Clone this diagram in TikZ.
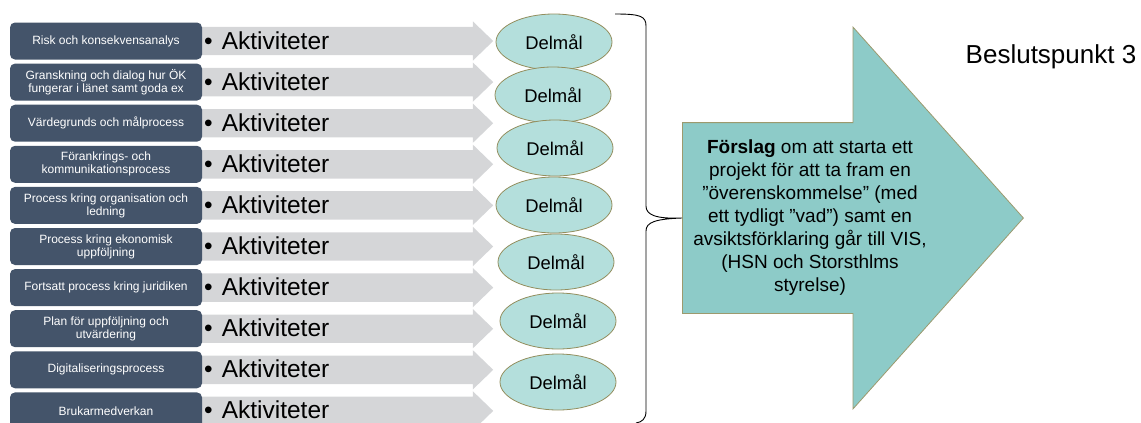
\documentclass[tikz,border=0pt]{standalone}
\usepackage{fontspec}
\setmainfont{Liberation Sans}
\usepackage{tikz}
\usetikzlibrary{shapes.geometric, shapes.arrows}
\definecolor{procblue}{HTML}{44546A}
\definecolor{aktgrey}{HTML}{D5D6D8}
\definecolor{delmfill}{HTML}{B4DFDC}
\definecolor{delmline}{HTML}{938E5E}
\definecolor{propfill}{HTML}{8DCBC8}
\definecolor{propline}{HTML}{9C9A6E}
\tikzset{
  proc_n/.style = {rectangle, rounded corners=5pt, fill=procblue, text=white,
    align=center, font=\fontsize{12}{13}\selectfont, minimum width=192pt,
    minimum height=37pt, inner sep=1pt},
  akt_n/.style = {single arrow, fill=aktgrey, anchor=tail, inner xsep=0pt,
    inner ysep=14pt, minimum height=293pt, single arrow head extend=5.5pt,
    single arrow tip angle=88},
  akt_t/.style = {anchor=west, inner sep=0pt, font=\fontsize{24.5}{26}\selectfont},
  delm_n/.style = {ellipse, fill=delmfill, draw=delmline, line width=0.8pt,
    minimum width=116pt, minimum height=56pt, font=\fontsize{18.4}{20}\selectfont}}

\begin{document}
\begin{tikzpicture}[x=1pt, y=-1pt,
  prop_n/.style = {single arrow, fill=propfill, draw=propline, line width=0.8pt,
    anchor=tail, inner xsep=0pt, inner ysep=95pt, minimum height=341pt,
    single arrow head extend=95.5pt, single arrow tip angle=96.5},
  brace_l/.style = {draw=black, line width=0.9pt}]
 \useasboundingbox (0,0) rectangle (1141,423);

 \foreach \txt [count=\i from 0] in {Risk och konsekvensanalys,
   {Granskning och dialog hur ÖK\\fungerar i länet samt goda ex},
   Värdegrunds och målprocess,
   {Förankrings- och\\kommunikationsprocess},
   {Process kring organisation och\\ledning},
   {Process kring ekonomisk\\uppföljning},
   Fortsatt process kring juridiken,
   {Plan för uppföljning och\\utvärdering},
   Digitaliseringsprocess,
   Brukarmedverkan}{
  \node [akt_n] (a\i) at (200,41+41.1*\i) {};
  \node [proc_n] (p\i) at (106,41+41.1*\i) {\txt};
  \node [akt_t] (t\i) at (204,41+41*\i) {\textbullet\hspace{9pt}Aktiviteter};
 }

 \foreach \x/\y [count=\j] in {554/42, 553/95, 555/148, 554/205, 556/262,
   558/321, 558/382}
  \node [delm_n] (d\j) at (\x,\y) {Delmål};

 \node [prop_n] (prop) at (682,218) {};
 \node [align=center, font=\fontsize{19}{23}\selectfont] (proptxt) at (810,218)
  {\textbf{Förslag} om att starta ett\\projekt för att ta fram en\\
   ”överenskommelse” (med\\ett tydligt ”vad”) samt en\\
   avsiktsförklaring går till VIS,\\(HSN och Storsthlms\\styrelse)};

 \node [font=\fontsize{26}{28}\selectfont] (bp) at (1051,57) {Beslutspunkt 3};

 \coordinate (bt) at (615,14);
 \coordinate (bb) at (636,423);
 \draw [brace_l] (bt) .. controls (640,14) and (646,16) .. (646,26) -- (646,206)
  .. controls (646,215) and (656,219) .. (prop.tail)
  .. controls (656,219) and (646,222) .. (646,231) -- (646,411)
  .. controls (646,419) and (642,422) .. (bb);
\end{tikzpicture}
\end{document}
